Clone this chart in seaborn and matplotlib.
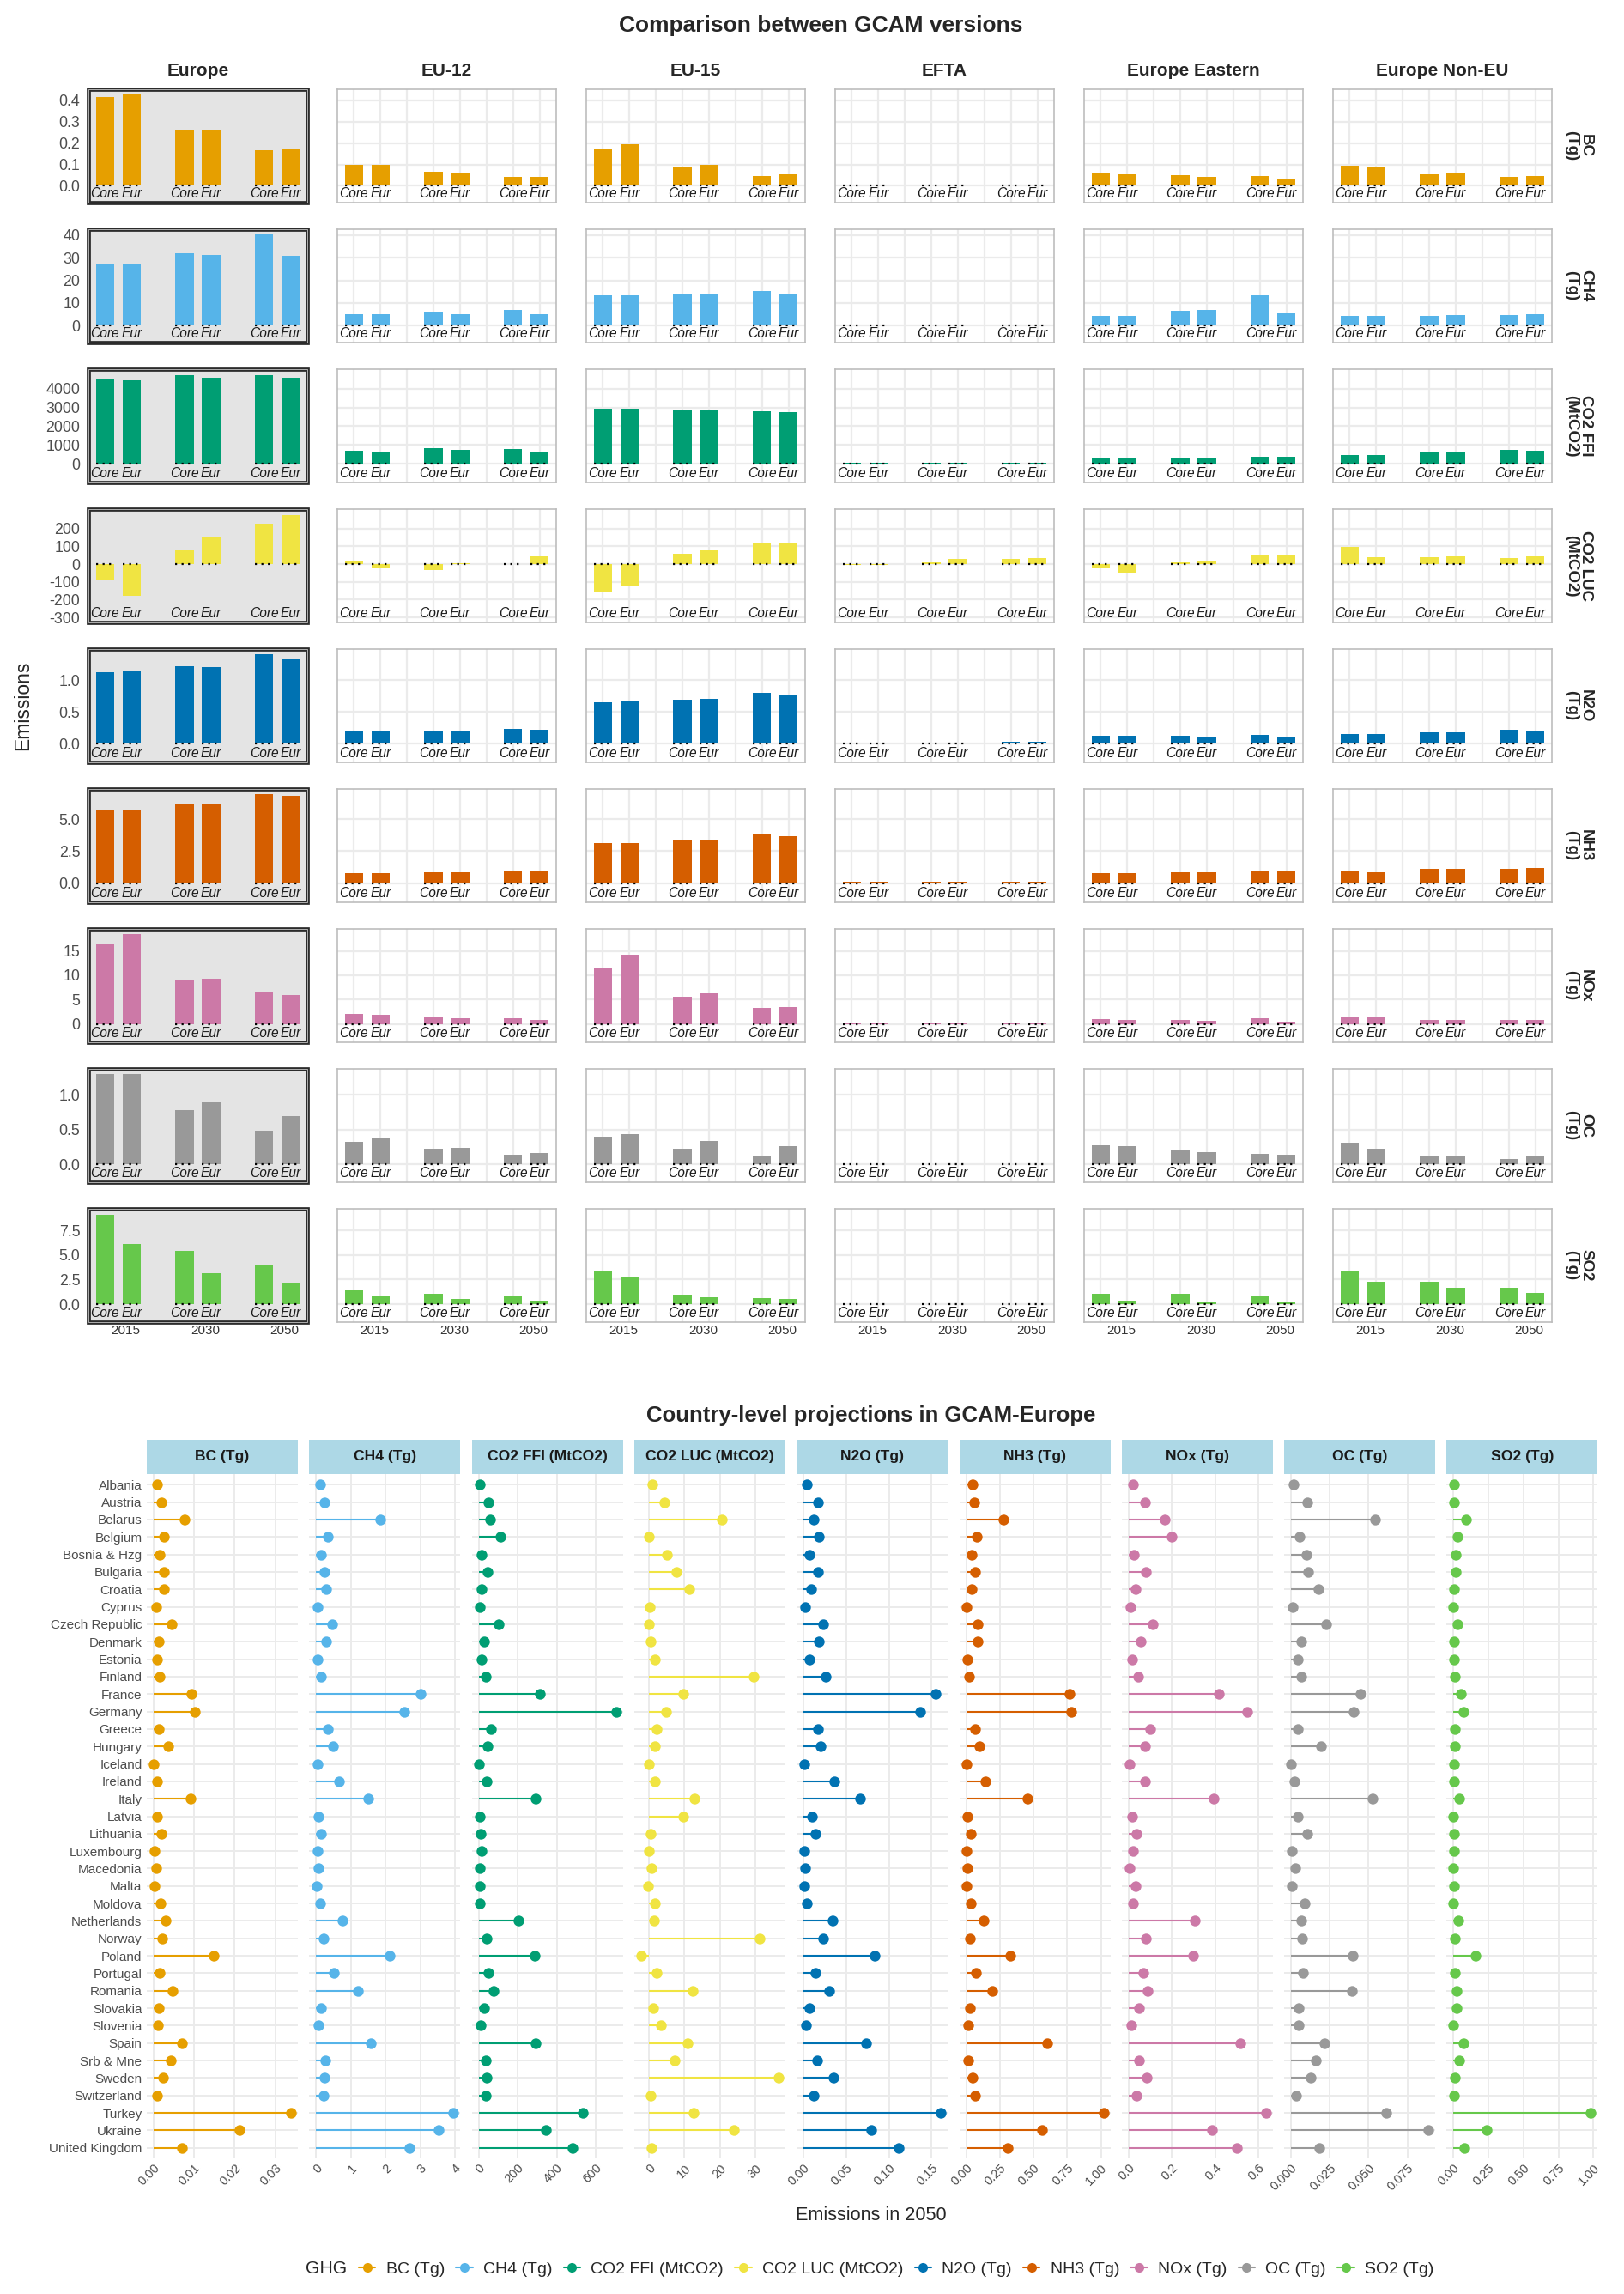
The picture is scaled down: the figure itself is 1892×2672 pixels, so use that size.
import matplotlib
matplotlib.use('Agg')
import matplotlib.pyplot as plt
from matplotlib.patches import Rectangle
from matplotlib.lines import Line2D
import numpy as np
import pandas as pd
import seaborn as sns

sns.set_theme(style='white')
plt.rcParams['font.family'] = ['Liberation Sans', 'DejaVu Sans']

W, H = 1892, 2672

# ---------------- data: comparison between GCAM versions ----------------
gases = ['BC', 'CH4', 'CO2 FFI', 'CO2 LUC', 'N2O', 'NH3', 'NOx', 'OC', 'SO2']
units = ['Tg', 'Tg', 'MtCO2', 'MtCO2', 'Tg', 'Tg', 'Tg', 'Tg', 'Tg']
gas_colors = ['#E69F00', '#56B4E9', '#009E73', '#F0E442', '#0072B2',
              '#D55E00', '#CC79A7', '#999999', '#66C84B']
regions = ['Europe', 'EU-12', 'EU-15', 'EFTA', 'Europe Eastern', 'Europe Non-EU']
years = ['2015', '2030', '2050']
versions = ['Core', 'Eur']

# each list: 2015 Core, 2015 Eur, 2030 Core, 2030 Eur, 2050 Core, 2050 Eur
bc = {'Europe': [0.417, 0.428, 0.259, 0.259, 0.168, 0.176],
      'EU-12': [0.096, 0.096, 0.066, 0.059, 0.041, 0.041],
      'EU-15': [0.172, 0.195, 0.090, 0.100, 0.045, 0.052],
      'EFTA': [0.003, 0.003, 0.002, 0.002, 0.002, 0.002],
      'Europe Eastern': [0.058, 0.055, 0.050, 0.043, 0.045, 0.033],
      'Europe Non-EU': [0.094, 0.085, 0.055, 0.059, 0.040, 0.047]}
ch4 = {'Europe': [27.4, 27.0, 31.8, 31.2, 40.4, 30.8],
       'EU-12': [4.9, 4.9, 6.2, 5.2, 6.8, 5.2],
       'EU-15': [13.5, 13.3, 14.2, 14.0, 15.1, 14.1],
       'EFTA': [0.3, 0.3, 0.3, 0.3, 0.3, 0.3],
       'Europe Eastern': [4.2, 4.2, 6.6, 7.1, 13.4, 6.0],
       'Europe Non-EU': [4.5, 4.4, 4.5, 4.8, 4.8, 5.2]}
co2_ffi = {'Europe': [4470, 4434, 4717, 4604, 4717, 4566],
           'EU-12': [679, 660, 830, 717, 792, 660],
           'EU-15': [2925, 2925, 2887, 2887, 2792, 2755],
           'EFTA': [75, 70, 50, 60, 50, 60],
           'Europe Eastern': [290, 290, 300, 320, 360, 380],
           'Europe Non-EU': [450, 450, 650, 640, 720, 700]}
co2_luc = {'Europe': [-91, -177, 78, 154, 229, 276],
           'EU-12': [13, -26, -34, 6, 1, 42],
           'EU-15': [-159, -127, 57, 78, 114, 119],
           'EFTA': [-5, -5, 8, 29, 29, 32],
           'Europe Eastern': [-24, -49, 8, 13, 55, 50],
           'Europe Non-EU': [96, 39, 37, 42, 36, 42]}
n2o = {'Europe': [1.127, 1.136, 1.218, 1.209, 1.405, 1.327],
       'EU-12': [0.186, 0.195, 0.209, 0.209, 0.236, 0.223],
       'EU-15': [0.645, 0.659, 0.691, 0.705, 0.795, 0.768],
       'EFTA': [0.02, 0.02, 0.02, 0.02, 0.025, 0.025],
       'Europe Eastern': [0.127, 0.127, 0.118, 0.100, 0.136, 0.091],
       'Europe Non-EU': [0.155, 0.155, 0.182, 0.182, 0.218, 0.205]}
nh3 = {'Europe': [5.72, 5.72, 6.22, 6.22, 6.96, 6.80],
       'EU-12': [0.80, 0.80, 0.88, 0.83, 0.99, 0.91],
       'EU-15': [3.12, 3.12, 3.37, 3.37, 3.78, 3.67],
       'EFTA': [0.10, 0.10, 0.10, 0.10, 0.10, 0.10],
       'Europe Eastern': [0.80, 0.80, 0.85, 0.85, 0.95, 0.95],
       'Europe Non-EU': [0.90, 0.88, 1.10, 1.10, 1.15, 1.20]}
nox = {'Europe': [16.4, 18.5, 9.05, 9.3, 6.7, 5.9],
       'EU-12': [2.1, 1.9, 1.55, 1.2, 1.2, 0.9],
       'EU-15': [11.6, 14.2, 5.5, 6.3, 3.3, 3.5],
       'EFTA': [0.2, 0.2, 0.2, 0.2, 0.2, 0.2],
       'Europe Eastern': [1.0, 0.8, 0.9, 0.7, 1.2, 0.5],
       'Europe Non-EU': [1.3, 1.3, 0.9, 0.9, 0.8, 0.8]}
oc = {'Europe': [1.30, 1.30, 0.78, 0.895, 0.487, 0.693],
      'EU-12': [0.328, 0.378, 0.227, 0.240, 0.134, 0.168],
      'EU-15': [0.40, 0.44, 0.23, 0.33, 0.12, 0.26],
      'EFTA': [0.005, 0.005, 0.005, 0.005, 0.005, 0.005],
      'Europe Eastern': [0.27, 0.26, 0.20, 0.18, 0.15, 0.14],
      'Europe Non-EU': [0.31, 0.22, 0.11, 0.13, 0.075, 0.11]}
so2 = {'Europe': [9.12, 6.12, 5.38, 3.12, 3.97, 2.20],
       'EU-12': [1.47, 0.79, 1.09, 0.53, 0.79, 0.35],
       'EU-15': [3.3, 2.8, 1.0, 0.75, 0.65, 0.5],
       'EFTA': [0.05, 0.05, 0.05, 0.05, 0.05, 0.05],
       'Europe Eastern': [1.1, 0.35, 1.05, 0.3, 0.9, 0.3],
       'Europe Non-EU': [3.3, 2.3, 2.3, 1.65, 1.7, 1.15]}
gas_tables = [bc, ch4, co2_ffi, co2_luc, n2o, nh3, nox, oc, so2]

row_ylim = [(-0.079, 0.452), (-7.4, 42.5), (-1000, 5040), (-328, 309),
            (-0.295, 1.486), (-1.49, 7.35), (-3.75, 19.5), (-0.26, 1.378),
            (-1.82, 9.7)]
row_ticks = [[0.0, 0.1, 0.2, 0.3, 0.4], [0, 10, 20, 30, 40],
             [0, 1000, 2000, 3000, 4000], [-300, -200, -100, 0, 100, 200],
             [0.0, 0.5, 1.0], [0.0, 2.5, 5.0], [0, 5, 10, 15],
             [0.0, 0.5, 1.0], [0.0, 2.5, 5.0, 7.5]]
row_fmt = ['{:.1f}', '{:.0f}', '{:.0f}', '{:.0f}', '{:.1f}', '{:.1f}',
           '{:.0f}', '{:.1f}', '{:.1f}']

# ---------------- data: country-level projections (2050) ----------------
countries = ['Albania', 'Austria', 'Belarus', 'Belgium', 'Bosnia & Hzg', 'Bulgaria',
             'Croatia', 'Cyprus', 'Czech Republic', 'Denmark', 'Estonia', 'Finland',
             'France', 'Germany', 'Greece', 'Hungary', 'Iceland', 'Ireland', 'Italy',
             'Latvia', 'Lithuania', 'Luxembourg', 'Macedonia', 'Malta', 'Moldova',
             'Netherlands', 'Norway', 'Poland', 'Portugal', 'Romania', 'Slovakia',
             'Slovenia', 'Spain', 'Srb & Mne', 'Sweden', 'Switzerland', 'Turkey',
             'Ukraine', 'United Kingdom']
bc_2050 = [0.0008, 0.0019, 0.0077, 0.0026, 0.0015, 0.0025, 0.0025, 0.0006, 0.0045, 0.0013,
           0.0009, 0.0014, 0.0094, 0.0101, 0.0012, 0.0036, 0.0000, 0.0008, 0.0092, 0.0009,
           0.0019, 0.0002, 0.0006, 0.0002, 0.0016, 0.0029, 0.0021, 0.0149, 0.0014, 0.0047,
           0.0013, 0.0011, 0.0069, 0.0042, 0.0023, 0.0009, 0.0339, 0.0212, 0.0070]
ch4_2050 = [0.11, 0.24, 1.86, 0.33, 0.15, 0.25, 0.28, 0.04, 0.46, 0.29,
            0.05, 0.15, 3.02, 2.54, 0.34, 0.48, 0.03, 0.66, 1.51, 0.07,
            0.14, 0.03, 0.07, 0.01, 0.11, 0.76, 0.22, 2.11, 0.50, 1.21,
            0.14, 0.07, 1.58, 0.26, 0.23, 0.21, 3.96, 3.52, 2.68]
co2_ffi_2050 = [4, 51, 61, 110, 15, 44, 13, 4, 105, 30,
                15, 38, 314, 703, 65, 46, 2, 42, 290, 6,
                11, 13, 6, 8, 6, 202, 40, 286, 50, 78,
                30, 10, 293, 36, 42, 38, 535, 345, 480]
co2_luc_2050 = [0.9, 4.3, 20.5, 0.1, 5.1, 7.8, 11.4, 0.3, 0.0, 0.4,
                1.6, 29.4, 9.6, 4.8, 2.1, 1.6, -0.1, 1.8, 12.7, 9.7,
                0.4, -0.1, 0.7, -0.2, 1.8, 1.4, 31.1, -2.2, 2.2, 12.4,
                1.3, 3.4, 10.8, 7.2, 36.4, 0.5, 12.6, 23.9, 0.8]
n2o_2050 = [0.004, 0.017, 0.012, 0.018, 0.0065, 0.017, 0.009, 0.002, 0.023, 0.018,
            0.0065, 0.0257, 0.155, 0.1365, 0.017, 0.020, 0.001, 0.0365, 0.066, 0.010,
            0.0143, 0.0013, 0.002, 0.0004, 0.0035, 0.034, 0.023, 0.083, 0.0135, 0.030,
            0.007, 0.003, 0.073, 0.0157, 0.035, 0.012, 0.161, 0.079, 0.111]
nh3_2050 = [0.05, 0.0625, 0.28, 0.08, 0.044, 0.066, 0.044, 0.006, 0.084, 0.084,
            0.0125, 0.025, 0.766, 0.78, 0.069, 0.10, 0.006, 0.144, 0.453, 0.0125,
            0.0375, 0.006, 0.0125, 0.0, 0.0375, 0.128, 0.031, 0.33, 0.072, 0.197,
            0.031, 0.016, 0.603, 0.016, 0.05, 0.066, 1.019, 0.5625, 0.31]
nox_2050 = [0.019, 0.074, 0.167, 0.197, 0.023, 0.080, 0.033, 0.008, 0.113, 0.055,
            0.016, 0.045, 0.417, 0.547, 0.101, 0.074, 0.004, 0.076, 0.391, 0.018,
            0.037, 0.021, 0.006, 0.033, 0.019, 0.306, 0.080, 0.298, 0.068, 0.086,
            0.049, 0.014, 0.514, 0.047, 0.082, 0.037, 0.633, 0.384, 0.499]
oc_2050 = [0.0016, 0.0104, 0.054, 0.0057, 0.0101, 0.0109, 0.0177, 0.0011, 0.0224, 0.0065,
           0.0041, 0.0068, 0.0447, 0.0403, 0.0044, 0.0194, 0.0, 0.0019, 0.0526, 0.0044,
           0.0106, 0.0005, 0.0027, 0.0003, 0.009, 0.0068, 0.0074, 0.0398, 0.0076, 0.039,
           0.0052, 0.0052, 0.0213, 0.0158, 0.0125, 0.003, 0.0613, 0.0886, 0.0183]
so2_2050 = [0.006, 0.003, 0.09, 0.03, 0.015, 0.018, 0.006, 0.0, 0.027, 0.006,
            0.006, 0.009, 0.051, 0.069, 0.012, 0.009, 0.003, 0.006, 0.042, 0.0,
            0.003, 0.003, 0.0, 0.003, 0.0, 0.036, 0.012, 0.16, 0.009, 0.021,
            0.021, 0.0, 0.069, 0.039, 0.009, 0.006, 0.982, 0.235, 0.078]
country_tables = [bc_2050, ch4_2050, co2_ffi_2050, co2_luc_2050, n2o_2050,
                  nh3_2050, nox_2050, oc_2050, so2_2050]

country_xticks = [[0.00, 0.01, 0.02, 0.03], [0, 1, 2, 3, 4], [0, 200, 400, 600],
                  [0, 10, 20, 30], [0.00, 0.05, 0.10, 0.15],
                  [0.00, 0.25, 0.50, 0.75, 1.00], [0.0, 0.2, 0.4, 0.6],
                  [0.000, 0.025, 0.050, 0.075], [0.00, 0.25, 0.50, 0.75, 1.00]]
country_xfmt = ['{:.2f}', '{:.0f}', '{:.0f}', '{:.0f}', '{:.2f}', '{:.2f}',
                '{:.1f}', '{:.3f}', '{:.2f}']

# long tables
rows = []
for gi, g in enumerate(gases):
    for reg in regions:
        vals = gas_tables[gi][reg]
        for k, v in enumerate(vals):
            yi, vi = divmod(k, 2)
            rows.append({'gas': g, 'region': reg, 'year': years[yi],
                         'version': versions[vi], 'pos': yi * 3 + vi + 1, 'value': v})
top_df = pd.DataFrame(rows)

crows = []
for gi, g in enumerate(gases):
    for ci, c in enumerate(countries):
        crows.append({'gas': g, 'country': c, 'row': ci, 'value': country_tables[gi][ci]})
country_df = pd.DataFrame(crows)


def px_rect(x, y, w, h):
    return [x / W, 1 - (y + h) / H, w / W, h / H]


fig = plt.figure(figsize=(W / 100, H / 100), dpi=100)
fig.patch.set_facecolor('white')

# ---------------- top block ----------------
bar_w = 0.69
col_x0, col_step, col_w = 103, 290, 255
row_y0, row_step, row_h = 104, 163, 132

fig.text(956 / W, 1 - 30 / H, 'Comparison between GCAM versions', ha='center', va='center',
         fontsize=19, fontweight='bold')
for c, reg in enumerate(regions):
    fig.text((col_x0 + col_step * c + col_w / 2) / W, 1 - 83 / H, reg, ha='center', va='center',
             fontsize=15, fontweight='bold')

for r, g in enumerate(gases):
    ytop = row_y0 + row_step * r
    fig.text(1839 / W, 1 - (ytop + row_h / 2) / H, f'{g}\n({units[r]})', rotation=-90,
             ha='center', va='center', fontsize=13.5, fontweight='bold', linespacing=1.0)
    for c, reg in enumerate(regions):
        ax = fig.add_axes(px_rect(col_x0 + col_step * c, ytop, col_w, row_h))
        sub = top_df[(top_df.gas == g) & (top_df.region == reg)]
        sns.barplot(data=sub, x='pos', y='value', native_scale=True, color=gas_colors[r],
                    width=bar_w, saturation=1, errorbar=None, linewidth=0, ax=ax, zorder=2)
        pos = sub.pos.to_numpy(dtype=float)
        ax.hlines(np.zeros(len(pos)), pos - bar_w / 2, pos + bar_w / 2, colors='black',
                  linestyles=(0, (1, 2.4)), lw=1.6, zorder=3)
        for p, v in zip(pos, sub.version):
            ax.text(p, 0.083, v, transform=ax.get_xaxis_transform(), ha='center', va='center',
                    fontsize=11.2, style='italic', color='#1A1A1A', zorder=4)
        ax.set_xlim(0.37, 8.63)
        ax.set_ylim(*row_ylim[r])
        ax.set_xlabel('')
        ax.set_ylabel('')
        ax.set_yticks(row_ticks[r])
        ax.set_xticks(range(1, 9), minor=True)
        if r == len(gases) - 1:
            ax.set_xticks([yi * 3 + 1.77 for yi in range(3)], years)
        else:
            ax.set_xticks([])
        ax.tick_params(axis='x', which='both', length=0, pad=2, labelsize=11, labelcolor='#333333')
        if c == 0:
            ax.set_yticklabels([row_fmt[r].format(t) for t in row_ticks[r]])
            ax.tick_params(axis='y', length=0, pad=7, labelsize=12.8, labelcolor='#4D4D4D')
            ax.set_facecolor('#E4E4E4')
            ax.grid(False)
            for s in ax.spines.values():
                s.set_visible(False)
            ax.add_patch(Rectangle((0, 0), 1, 1, transform=ax.transAxes, fill=False,
                                   ec='#2B2B2B', lw=3.4, clip_on=False, zorder=6))
            ax.add_patch(Rectangle((0, 0), 1, 1, transform=ax.transAxes, fill=False,
                                   ec='#B0B0B0', lw=0.7, clip_on=False, zorder=7))
        else:
            ax.set_yticklabels([])
            ax.tick_params(axis='y', length=0)
            ax.set_facecolor('white')
            ax.grid(True, axis='y', which='major', color='#EBEBEB', lw=1.6, zorder=0)
            ax.grid(True, axis='x', which='minor', color='#EBEBEB', lw=1.6, zorder=0)
            ax.set_axisbelow(True)
            for s in ax.spines.values():
                s.set_visible(True)
                s.set_color('#BDBDBD')
                s.set_linewidth(1.2)

fig.text(27 / W, 1 - 822 / H, 'Emissions', rotation=90, ha='center', va='center', fontsize=16.5)

# ---------------- bottom block ----------------
fig.text(1015 / W, 1 - 1649 / H, 'Country-level projections in GCAM-Europe', ha='center',
         va='center', fontsize=18.5, fontweight='bold')

f_x0, f_step, f_w = 171, 189.3, 176
f_y0, f_h, strip_h = 1717, 797, 40
n_c = len(countries)
for i, g in enumerate(gases):
    ax = fig.add_axes(px_rect(f_x0 + f_step * i, f_y0, f_w, f_h))
    sub = country_df[country_df.gas == g]
    ax.hlines(sub.row.to_numpy(), np.zeros(len(sub)), sub.value.to_numpy(),
              colors=gas_colors[i], lw=1.5, zorder=2)
    sns.scatterplot(data=sub, x='value', y='row', color=gas_colors[i], s=80, linewidth=0,
                    ax=ax, legend=False, zorder=3)
    ax.set_xlabel('')
    ax.set_ylabel('')
    ax.margins(x=0.05)
    ax.autoscale_view()
    ax.set_ylim(n_c - 1 + 0.6, -0.6)
    ax.set_xticks(country_xticks[i], [country_xfmt[i].format(t) for t in country_xticks[i]])
    for lab in ax.get_xticklabels():
        lab.set_rotation(45)
        lab.set_ha('right')
        lab.set_rotation_mode('anchor')
    ax.set_yticks(range(n_c))
    if i == 0:
        ax.set_yticklabels(countries)
    else:
        ax.set_yticklabels([])
    ax.tick_params(axis='both', length=0, labelcolor='#4D4D4D')
    ax.tick_params(axis='x', labelsize=10.5, pad=3)
    ax.tick_params(axis='y', labelsize=11, pad=4)
    ax.set_facecolor('white')
    ax.grid(True, color='#EBEBEB', lw=1.4, zorder=0)
    ax.set_axisbelow(True)
    for s in ax.spines.values():
        s.set_visible(False)
    ax.add_patch(Rectangle((0, 1), 1, strip_h / f_h, transform=ax.transAxes,
                           facecolor='#ADD8E6', edgecolor='none', clip_on=False))
    ax.text(0.5, 1 + strip_h / f_h / 2, f'{g} ({units[i]})', transform=ax.transAxes,
            ha='center', va='center', fontsize=12.6, fontweight='bold', color='#1A1A1A')

fig.text(1015 / W, 1 - 2581 / H, 'Emissions in 2050', ha='center', va='center', fontsize=15.6)

# legend
fig.text(356 / W, 1 - 2643 / H, 'GHG', ha='left', va='center', fontsize=15.2)
handles = [Line2D([0], [0], color=gas_colors[i], lw=1.5, marker='o', markersize=8,
                  markeredgewidth=0) for i in range(len(gases))]
labels = [f'{g} ({u})' for g, u in zip(gases, units)]
fig.legend(handles, labels, loc='center left', bbox_to_anchor=(418 / W, 1 - 2643 / H),
           ncol=len(gases), frameon=False, fontsize=14, handlelength=1.0,
           handletextpad=0.63, columnspacing=0.68, borderaxespad=0, borderpad=0)

fig.savefig('out.png', dpi=100, facecolor='white')
